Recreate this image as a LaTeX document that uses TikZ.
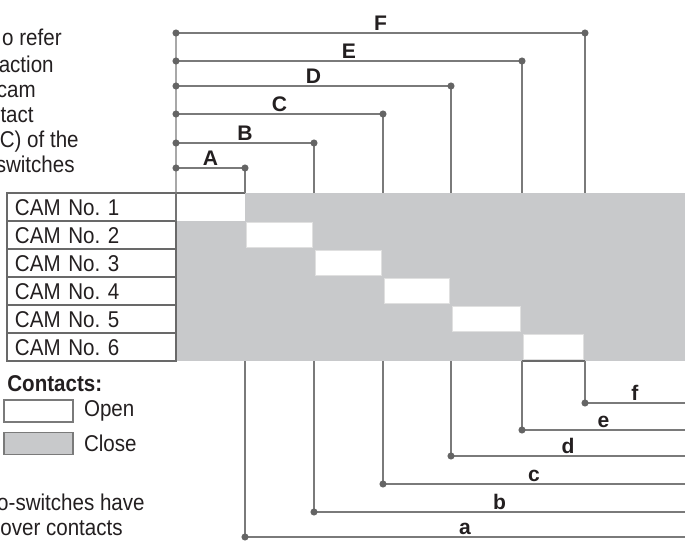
\documentclass[tikz,border=0pt]{standalone}
\usepackage{fontspec}
\setmainfont{Liberation Sans}[FakeStretch=0.9]
\newfontfamily\dimfont{Liberation Sans}
\usetikzlibrary{positioning}

\definecolor{cellgrey}{RGB}{200,201,203}
\definecolor{linegrey}{RGB}{122,122,122}
\definecolor{dotgrey}{RGB}{100,100,100}
\definecolor{boxgrey}{RGB}{105,105,105}
\definecolor{inkblack}{RGB}{35,31,32}

\tikzset{
    dimline/.style={linegrey, line width=0.75pt},
    dimlabel/.style={font=\dimfont\bfseries\fontsize{12}{14}\selectfont, text=inkblack, inner sep=1pt, above},
    cambox/.style={draw=boxgrey, line width=1pt, minimum width=3.38cm, minimum height=0.56cm, outer sep=0pt,
        text width=3.06cm, inner xsep=0.16cm, inner ysep=0pt, text height=9.4pt, text depth=0pt,
        align=left, text=inkblack, font=\fontsize{13}{13}\selectfont},
    opencell/.style={fill=white, draw=white!88!black, line width=0.4pt},
    legendbox/.style={draw=linegrey, line width=0.8pt, minimum width=1.38cm, minimum height=0.44cm, inner sep=0pt},
    note/.style={font=\fontsize{13}{15}\selectfont, text=inkblack, inner sep=0pt}
}

\begin{document}
\begin{tikzpicture}
    \useasboundingbox (0,0) rectangle (13.7,10.84);
    \begin{scope}
    \fill[cellgrey] (3.52,3.62) rectangle (13.7,6.98);
    \fill[white] (3.52,6.42) rectangle (4.9,6.98);
    \filldraw[opencell] (4.93,5.89) rectangle (6.25,6.39);
    \filldraw[opencell] (6.31,5.33) rectangle (7.63,5.83);
    \filldraw[opencell] (7.69,4.77) rectangle (8.99,5.27);
    \filldraw[opencell] (9.05,4.21) rectangle (10.41,4.71);
    \filldraw[opencell] (10.47,3.65) rectangle (11.67,4.15);

    \node[cambox, anchor=north west] (cam1) at (0.14,6.98) {CAM No.\ 1};
    \node[cambox, below=0pt of cam1] (cam2) {CAM No.\ 2};
    \node[cambox, below=0pt of cam2] (cam3) {CAM No.\ 3};
    \node[cambox, below=0pt of cam3] (cam4) {CAM No.\ 4};
    \node[cambox, below=0pt of cam4] (cam5) {CAM No.\ 5};
    \node[cambox, below=0pt of cam5] (cam6) {CAM No.\ 6};

    \coordinate (lF) at (3.52,10.18);
    \coordinate (rF) at (11.7,10.18);
    \coordinate (lE) at (3.52,9.62);
    \coordinate (rE) at (10.44,9.62);
    \coordinate (lD) at (3.52,9.12);
    \coordinate (rD) at (9.02,9.12);
    \coordinate (lC) at (3.52,8.56);
    \coordinate (rC) at (7.66,8.56);
    \coordinate (lB) at (3.52,7.98);
    \coordinate (rB) at (6.28,7.98);
    \coordinate (lA) at (3.52,7.48);
    \coordinate (rA) at (4.9,7.48);

    \draw[boxgrey, line width=1pt] (cam1.north east) -- (rA |- cam1.north);
    \draw[boxgrey, line width=1pt] (rE |- cam6.south) -- (rF |- cam6.south);

    \draw[dimline] (lF) -- (cam1.south east);
    \draw[dimline] (lF) -- (rF) node[midway, dimlabel] {F};
    \draw[dimline] (rF) -- (rF |- cam1.north);
    \draw[dimline] (lE) -- (rE) node[midway, dimlabel] {E};
    \draw[dimline] (rE) -- (rE |- cam1.north);
    \draw[dimline] (lD) -- (rD) node[midway, dimlabel] {D};
    \draw[dimline] (rD) -- (rD |- cam1.north);
    \draw[dimline] (lC) -- (rC) node[midway, dimlabel] {C};
    \draw[dimline] (rC) -- (rC |- cam1.north);
    \draw[dimline] (lB) -- (rB) node[midway, dimlabel] {B};
    \draw[dimline] (rB) -- (rB |- cam1.north);
    \draw[dimline] (lA) -- (rA) node[midway, dimlabel] {A};
    \draw[dimline] (rA) -- (rA |- cam1.north);

    \filldraw[dotgrey] (lF) circle (1.8pt);
    \filldraw[dotgrey] (rF) circle (1.8pt);
    \filldraw[dotgrey] (lE) circle (1.8pt);
    \filldraw[dotgrey] (rE) circle (1.8pt);
    \filldraw[dotgrey] (lD) circle (1.8pt);
    \filldraw[dotgrey] (rD) circle (1.8pt);
    \filldraw[dotgrey] (lC) circle (1.8pt);
    \filldraw[dotgrey] (rC) circle (1.8pt);
    \filldraw[dotgrey] (lB) circle (1.8pt);
    \filldraw[dotgrey] (rB) circle (1.8pt);
    \filldraw[dotgrey] (lA) circle (1.8pt);
    \filldraw[dotgrey] (rA) circle (1.8pt);

    \coordinate (bf) at (11.7,2.78);
    \coordinate (ef) at (13.7,2.78);
    \coordinate (be) at (10.44,2.24);
    \coordinate (ee) at (13.7,2.24);
    \coordinate (bd) at (9.02,1.72);
    \coordinate (ed) at (13.7,1.72);
    \coordinate (bc) at (7.66,1.16);
    \coordinate (ec) at (13.7,1.16);
    \coordinate (bb) at (6.28,0.60);
    \coordinate (eb) at (13.7,0.60);
    \coordinate (ba) at (4.9,0.10);
    \coordinate (ea) at (13.7,0.10);

    \draw[dimline] (bf |- cam6.south) -- (bf);
    \draw[dimline] (bf) -- (ef) node[midway, dimlabel] {f};
    \draw[dimline] (be |- cam6.south) -- (be);
    \draw[dimline] (be) -- (ee) node[midway, dimlabel] {e};
    \draw[dimline] (bd |- cam6.south) -- (bd);
    \draw[dimline] (bd) -- (ed) node[midway, dimlabel] {d};
    \draw[dimline] (bc |- cam6.south) -- (bc);
    \draw[dimline] (bc) -- (ec) node[midway, dimlabel] {c};
    \draw[dimline] (bb |- cam6.south) -- (bb);
    \draw[dimline] (bb) -- (eb) node[midway, dimlabel] {b};
    \draw[dimline] (ba |- cam6.south) -- (ba);
    \draw[dimline] (ba) -- (ea) node[midway, dimlabel] {a};

    \filldraw[dotgrey] (bf) circle (1.8pt);
    \filldraw[dotgrey] (be) circle (1.8pt);
    \filldraw[dotgrey] (bd) circle (1.8pt);
    \filldraw[dotgrey] (bc) circle (1.8pt);
    \filldraw[dotgrey] (bb) circle (1.8pt);
    \filldraw[dotgrey] (ba) circle (1.8pt);

    \node[note, anchor=base west, font=\bfseries\fontsize{13}{15}\selectfont] (contacts) at (0.14,3.01) {Contacts:};
    \node[legendbox, fill=white] (openbox) at (0.77,2.62) {};
    \node[legendbox, fill=cellgrey, below=0.18cm of openbox] (closebox) {};
    \node[note, right=0.2cm of openbox] (opentext) {Open};
    \node[note, right=0.2cm of closebox] (closetext) {Close};

    \node[note, anchor=base east] (noteone) at (1.24,9.93) {o refer};
    \node[note, anchor=base east] (notetwo) at (1.08,9.40) {action};
    \node[note, anchor=base east] (notethree) at (0.72,8.90) {cam};
    \node[note, anchor=base east] (notefour) at (0.68,8.39) {tact};
    \node[note, anchor=base east] (notefive) at (1.58,7.89) {C) of the};
    \node[note, anchor=base east] (notesix) at (1.50,7.39) {switches};

    \node[note, anchor=base east] (footone) at (2.90,0.64) {o-switches have};
    \node[note, anchor=base east] (foottwo) at (2.46,0.13) {over contacts};
    \end{scope}
\end{tikzpicture}
\end{document}
